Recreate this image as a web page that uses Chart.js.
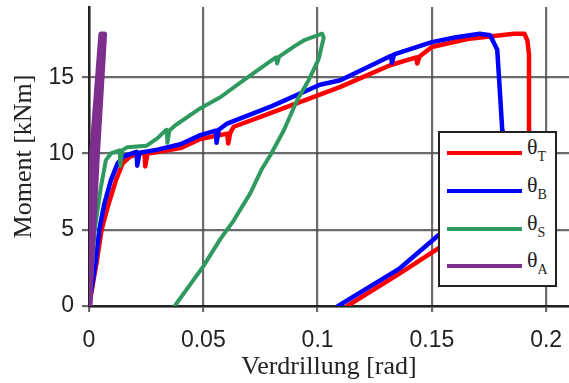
<!DOCTYPE html>
<html>
<head>
<meta charset="utf-8">
<script src="https://cdn.jsdelivr.net/npm/chart.js@4.4.1/dist/chart.umd.min.js"></script>
<style>
  html, body { margin: 0; padding: 0; background: #fff; }
  #wrap { position: relative; width: 569px; height: 383px; }
  #legend {
    position: absolute; left: 438px; top: 131px; width: 115px; height: 152px;
    background: #fff; border: 2px solid #222;
    font-family: "Liberation Serif", serif; color: #222;
  }
  #legend .sw { position: absolute; left: 7px; width: 75px; height: 4px; }
  #legend .lb { position: absolute; left: 87px; font-size: 22px; line-height: 22px; }
  #legend .lb sub { font-size: 14px; vertical-align: -7px; }
</style>
</head>
<body>
<div id="wrap">
  <canvas id="chart" width="569" height="383"></canvas>
  <div id="legend"></div>
</div>
<script>
// rotation [rad] and moment [kNm]
var thetaT_rot = [0, 0.0035, 0.0055, 0.0082, 0.0118, 0.0147, 0.018, 0.0225, 0.0243, 0.0246, 0.0256, 0.030, 0.040, 0.0487, 0.0605, 0.0609, 0.0618, 0.0633, 0.075, 0.0925, 0.101, 0.11, 0.132, 0.1432, 0.1436, 0.1446, 0.15, 0.1655, 0.186, 0.1905, 0.1918, 0.1925, 0.1925, 0.192, 0.185, 0.165, 0.153, 0.136, 0.113];
var thetaT_mom = [0, 3, 5, 6.5, 8.25, 9.35, 9.8, 10.0, 10.05, 9.15, 10.0, 10.1, 10.35, 10.95, 11.3, 10.65, 11.35, 11.75, 12.4, 13.38, 13.86, 14.36, 15.8, 16.3, 15.9, 16.35, 16.98, 17.5, 17.85, 17.85, 17.4, 16.5, 11.5, 7.0, 6.0, 4.9, 3.8, 2.14, 0];

var thetaB_rot = [0, 0.003, 0.0045, 0.0067, 0.0096, 0.0125, 0.015, 0.0208, 0.0211, 0.0221, 0.030, 0.040, 0.0487, 0.0555, 0.0558, 0.0568, 0.0604, 0.08, 0.101, 0.11, 0.1322, 0.1325, 0.1335, 0.15, 0.16, 0.171, 0.1755, 0.1786, 0.18, 0.1808, 0.181, 0.175, 0.165, 0.153, 0.136, 0.109];
var thetaB_mom = [0, 3, 5, 6.7, 8.25, 9.35, 9.8, 10.1, 9.2, 10.05, 10.25, 10.6, 11.2, 11.5, 10.7, 11.55, 11.96, 13.1, 14.5, 14.8, 16.4, 15.95, 16.5, 17.3, 17.6, 17.85, 17.75, 16.8, 13.5, 11.5, 8.5, 6.5, 5.6, 4.65, 2.47, 0];

var thetaS_rot = [0, 0.0025, 0.0052, 0.0074, 0.0096, 0.0134, 0.0137, 0.0145, 0.0166, 0.0251, 0.030, 0.0334, 0.0340, 0.0343, 0.0352, 0.0378, 0.0486, 0.0576, 0.0677, 0.0808, 0.0818, 0.0823, 0.0832, 0.0896, 0.0945, 0.102, 0.1027, 0.1005, 0.0961, 0.0911, 0.0852, 0.0794, 0.0757, 0.0706, 0.0633, 0.0575, 0.05, 0.0375];
var thetaS_mom = [0, 5, 7.8, 9.56, 10.0, 10.2, 9.2, 10.2, 10.4, 10.5, 11.0, 11.5, 11.55, 10.7, 11.5, 11.85, 12.95, 13.7, 14.8, 16.2, 16.3, 15.9, 16.35, 17.0, 17.45, 17.85, 17.6, 16.2, 14.8, 13.5, 11.5, 9.9, 9.0, 7.4, 5.6, 4.4, 2.6, 0];

var thetaA_rot = [0, 0.0035, 0.0066, 0.0054, 0.0014, 0.0003];
var thetaA_mom = [0, 10, 17.8, 17.8, 10, 0];

var xTicks = [0, 0.05, 0.1, 0.15, 0.2];
var yTicks = [0, 5, 10, 15];

var series = [
  { name: "T", rot: thetaT_rot, mom: thetaT_mom, color: "#ff0000", width: 4.5, order: 3 },
  { name: "B", rot: thetaB_rot, mom: thetaB_mom, color: "#0000ff", width: 4.5, order: 2 },
  { name: "S", rot: thetaS_rot, mom: thetaS_mom, color: "#2f9a60", width: 4, order: 1 },
  { name: "A", rot: thetaA_rot, mom: thetaA_mom, color: "#7e2f8e", width: 6, order: 0 }
];

function toPoints(xs, ys) {
  return xs.map(function(x, i) { return { x: x, y: ys[i] }; });
}

// keep the plot box fixed: no extra room for end labels
function fixBox(size) {
  return function(scale) {
    if (scale.isHorizontal()) scale.height = size; else scale.width = size;
    scale.paddingLeft = 0;
    scale.paddingRight = 0;
    scale.paddingTop = 0;
    scale.paddingBottom = 0;
  };
}

var datasets = series.map(function(s) {
  return {
    label: "\u03b8" + s.name,
    data: toPoints(s.rot, s.mom),
    borderColor: s.color,
    borderWidth: s.width,
    pointRadius: 0,
    tension: 0,
    fill: false,
    order: s.order,
    borderJoinStyle: "round",
    borderCapStyle: "round"
  };
});

var gridColor = "rgba(70,70,70,0.8)";

var ctx = document.getElementById("chart").getContext("2d");
var chart = new Chart(ctx, {
  type: "line",
  data: { datasets: datasets },
  options: {
    responsive: false,
    animation: false,
    layout: { padding: { top: 7, right: 0, left: 0, bottom: 0 } },
    plugins: { legend: { display: false }, tooltip: { enabled: false } },
    scales: {
      x: {
        type: "linear",
        min: 0,
        max: 0.21,
        afterFit: fixBox(77),
        afterBuildTicks: function(scale) { scale.ticks = xTicks.map(function(v) { return { value: v }; }); },
        ticks: {
          font: { family: "'Liberation Sans', Arial, sans-serif", size: 23 },
          color: "#222",
          padding: 15,
          maxRotation: 0,
          callback: function(v) { return String(v); }
        },
        grid: { color: gridColor, lineWidth: 2.2, tickLength: 6 },
        border: { color: "#222", width: 2.5 },
        title: {
          display: true,
          text: "Verdrillung [rad]",
          font: { family: "'Liberation Serif', serif", size: 26 },
          color: "#222",
          padding: { top: 0, bottom: 0 }
        }
      },
      y: {
        type: "linear",
        min: 0,
        max: 19.6,
        afterFit: fixBox(89),
        afterBuildTicks: function(scale) { scale.ticks = yTicks.map(function(v) { return { value: v }; }); },
        ticks: {
          font: { family: "'Liberation Sans', Arial, sans-serif", size: 23 },
          color: "#222",
          padding: 8
        },
        grid: { color: gridColor, lineWidth: 2.2, tickLength: 7 },
        border: { color: "#222", width: 2.5 },
        title: {
          display: true,
          text: "Moment [kNm]",
          font: { family: "'Liberation Serif', serif", size: 26 },
          color: "#222",
          padding: { top: 9, bottom: 0 }
        }
      }
    }
  }
});

// legend with subscripts
var legend = document.getElementById("legend");
var rowY = [20, 58, 96, 133];
series.forEach(function(s, i) {
  var sw = document.createElement("div");
  sw.className = "sw";
  sw.style.top = (rowY[i] - 2) + "px";
  sw.style.background = s.color;
  legend.appendChild(sw);
  var lb = document.createElement("div");
  lb.className = "lb";
  lb.style.top = (rowY[i] - 17) + "px";
  lb.innerHTML = "\u03b8<sub>" + s.name + "</sub>";
  legend.appendChild(lb);
});
</script>
</body>
</html>
